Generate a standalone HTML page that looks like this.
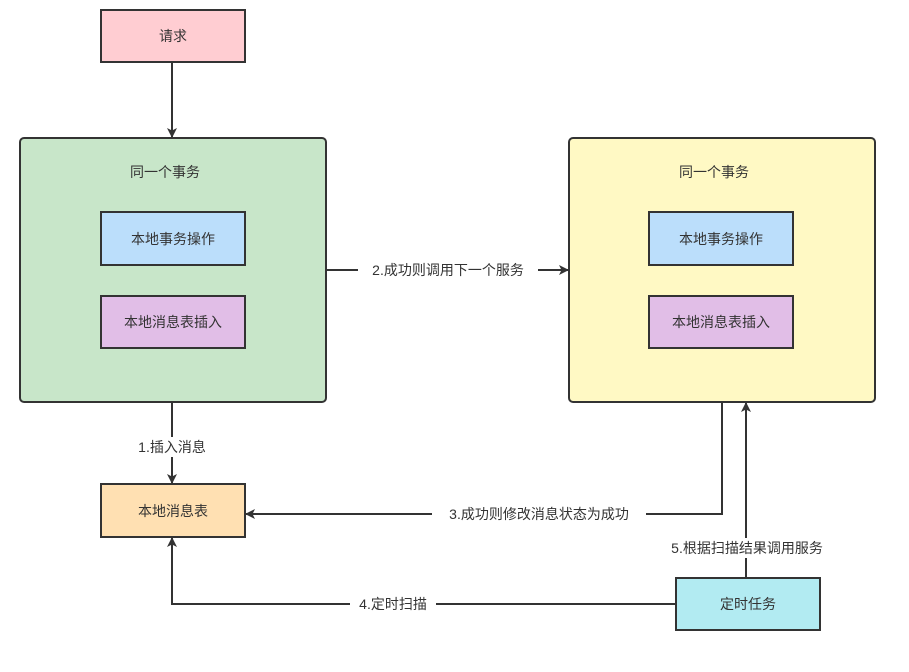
<!DOCTYPE html>
<html><head><meta charset="utf-8"><style>
html,body{margin:0;padding:0;background:#fff;}
svg text{font-family:"Liberation Sans","Noto Sans CJK SC",sans-serif;font-size:14px;fill:#333;}
</style></head><body>
<svg width="909" height="667" viewBox="0 0 909 667" xmlns="http://www.w3.org/2000/svg">
<defs>
<marker id="a" markerWidth="10" markerHeight="10" refX="9" refY="5" orient="auto" markerUnits="userSpaceOnUse">
<path d="M0,0 L10,5 L0,10 L2.5,5 Z" fill="#333"/>
</marker>
</defs>
<g stroke="#333" stroke-width="2" fill="none">
<line x1="172" y1="62" x2="172" y2="137" marker-end="url(#a)"/>
<line x1="326" y1="270" x2="568" y2="270" marker-end="url(#a)"/>
<line x1="172" y1="402" x2="172" y2="483" marker-end="url(#a)"/>
<polyline points="722,402 722,514 246,514" marker-end="url(#a)"/>
<line x1="746" y1="578" x2="746" y2="403" marker-end="url(#a)"/>
<polyline points="676,604 172,604 172,538" marker-end="url(#a)"/>
</g>
<g stroke="#333" stroke-width="2">
<rect x="101" y="10" width="144" height="52" fill="#ffcdd2"/>
<rect x="20" y="138" width="306" height="264" rx="4" fill="#c8e6c9"/>
<rect x="101" y="212" width="144" height="53" fill="#bbdefb"/>
<rect x="101" y="296" width="144" height="52" fill="#e1bee7"/>
<rect x="569" y="138" width="306" height="264" rx="4" fill="#fff9c4"/>
<rect x="649" y="212" width="144" height="53" fill="#bbdefb"/>
<rect x="649" y="296" width="144" height="52" fill="#e1bee7"/>
<rect x="101" y="484" width="144" height="53" fill="#ffe0b2"/>
<rect x="676" y="578" width="144" height="52" fill="#b2ebf2"/>
</g>
<g fill="#fff">
<rect x="358" y="260" width="180" height="20"/>
<rect x="130" y="437" width="84" height="20"/>
<rect x="432" y="504" width="214" height="20"/>
<rect x="658" y="538" width="178" height="20"/>
<rect x="350" y="594" width="86" height="20"/>
</g>
<g text-anchor="middle" dominant-baseline="central">
<text x="173" y="36">请求</text>
<text x="165" y="172">同一个事务</text>
<text x="173" y="239">本地事务操作</text>
<text x="173" y="322">本地消息表插入</text>
<text x="714" y="172">同一个事务</text>
<text x="721" y="239">本地事务操作</text>
<text x="721" y="322">本地消息表插入</text>
<text x="173" y="511">本地消息表</text>
<text x="748" y="604">定时任务</text>
<text x="448" y="270">2.成功则调用下一个服务</text>
<text x="172" y="447">1.插入消息</text>
<text x="539" y="514">3.成功则修改消息状态为成功</text>
<text x="747" y="548">5.根据扫描结果调用服务</text>
<text x="393" y="604">4.定时扫描</text>
</g>
</svg>
</body></html>
